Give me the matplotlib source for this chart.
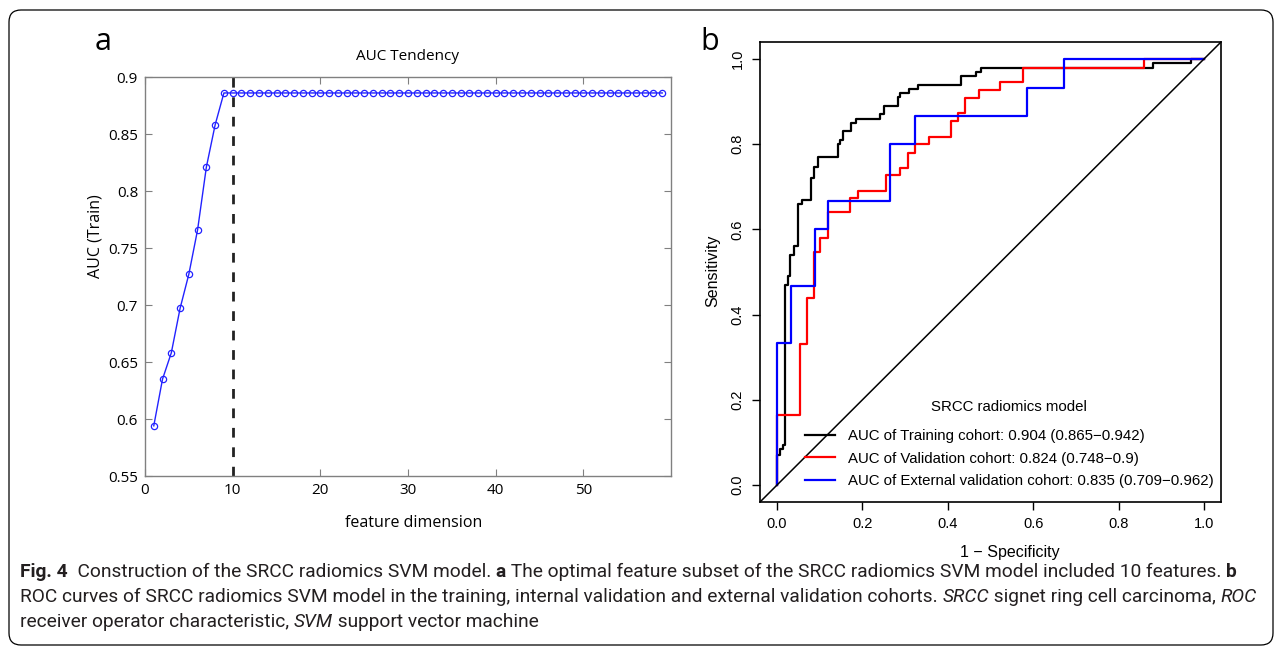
import matplotlib
matplotlib.use("Agg")
import matplotlib.pyplot as plt
from matplotlib import font_manager
from matplotlib.patches import FancyBboxPatch
from matplotlib.lines import Line2D

# ---- panel a: AUC vs number of features ----
feature_dim = list(range(1, 60))
auc_train = [
    0.594, 0.635, 0.658, 0.697, 0.727, 0.766, 0.821, 0.858, 0.886, 0.886,
    0.886, 0.886, 0.886, 0.886, 0.886, 0.886, 0.886, 0.886, 0.886, 0.886,
    0.886, 0.886, 0.886, 0.886, 0.886, 0.886, 0.886, 0.886, 0.886, 0.886,
    0.886, 0.886, 0.886, 0.886, 0.886, 0.886, 0.886, 0.886, 0.886, 0.886,
    0.886, 0.886, 0.886, 0.886, 0.886, 0.886, 0.886, 0.886, 0.886, 0.886,
    0.886, 0.886, 0.886, 0.886, 0.886, 0.886, 0.886, 0.886, 0.886,
]
best_dim = 10

# ---- panel b: ROC points (1 - specificity, sensitivity) ----
train_fpr = [0, 0, 0.007, 0.014, 0.019, 0.026, 0.03, 0.04, 0.05, 0.058, 0.08,
             0.087, 0.096, 0.142, 0.147, 0.154, 0.173, 0.185, 0.24, 0.25,
             0.283, 0.287, 0.31, 0.33, 0.43, 0.432, 0.465, 0.477, 0.88, 0.97, 1.0]
train_tpr = [0, 0.07, 0.085, 0.095, 0.47, 0.49, 0.54, 0.56, 0.66, 0.67, 0.72,
             0.746, 0.77, 0.80, 0.81, 0.83, 0.85, 0.86, 0.87, 0.89,
             0.91, 0.92, 0.93, 0.94, 0.95, 0.96, 0.97, 0.98, 0.99, 1.0, 1.0]
val_fpr = [0, 0, 0.054, 0.07, 0.086, 0.1, 0.12, 0.17, 0.19, 0.255, 0.287,
           0.306, 0.323, 0.355, 0.407, 0.423, 0.44, 0.474, 0.523, 0.575, 0.86, 1.0]
val_tpr = [0, 0.164, 0.33, 0.44, 0.547, 0.58, 0.64, 0.674, 0.69, 0.728, 0.744,
           0.78, 0.80, 0.817, 0.855, 0.873, 0.908, 0.927, 0.945, 0.98, 1.0, 1.0]
ext_fpr = [0, 0, 0.033, 0.089, 0.12, 0.264, 0.323, 0.586, 0.673, 1.0]
ext_tpr = [0, 0.333, 0.467, 0.6, 0.667, 0.8, 0.867, 0.933, 1.0, 1.0]

roc_labels = [
    "AUC of Training cohort: 0.904 (0.865\u22120.942)",
    "AUC of Validation cohort: 0.824 (0.748\u22120.9)",
    "AUC of External validation cohort: 0.835 (0.709\u22120.962)",
]
roc_colors = ["black", "red", "blue"]

caption_lines = [
    [("Fig. 4", "bold", "normal"),
     ("  Construction of the SRCC radiomics SVM model. ", "normal", "normal"),
     ("a", "bold", "normal"),
     (" The optimal feature subset of the SRCC radiomics SVM model included 10 features. ", "normal", "normal"),
     ("b", "bold", "normal")],
    [("ROC curves of SRCC radiomics SVM model in the training, internal validation and external validation cohorts. ", "normal", "normal"),
     ("SRCC", "normal", "italic"),
     (" signet ring cell carcinoma, ", "normal", "normal"),
     ("ROC", "normal", "italic")],
    [("receiver operator characteristic, ", "normal", "normal"),
     ("SVM", "normal", "italic"),
     (" support vector machine", "normal", "normal")],
]
caption_widths = [1242, 1236, None]  # pixel width of each line in the original

W, H = 1281, 655
installed = {f.name for f in font_manager.fontManager.ttflist}
cap_font = "Liberation Sans Narrow" if "Liberation Sans Narrow" in installed else "Roboto"
matlab_font = "Open Sans"
r_font = "Liberation Sans"


def px_axes(fig, left, top, right, bottom):
    return fig.add_axes([left / W, 1 - bottom / H, (right - left) / W, (bottom - top) / H])


def line_width(fig, renderer, runs, size):
    total = 0.0
    for text, weight, style in runs:
        t = fig.text(0, 0, text, fontweight=weight, fontstyle=style, family=cap_font, fontsize=size)
        total += t.get_window_extent(renderer).width
        t.remove()
    return total


fig = plt.figure(figsize=(W / 100, H / 100), dpi=100)
renderer = fig.canvas.get_renderer()

# rounded outer frame
frame = FancyBboxPatch((0.09, 0.10), 12.64, 6.35, boxstyle="round,pad=0,rounding_size=0.12",
                       transform=fig.dpi_scale_trans, fc="none", ec="black", lw=0.9)
fig.patches.append(frame)

# ---------------- panel a ----------------
ax1 = px_axes(fig, 145, 77, 671, 476)
ax1.plot(feature_dim, auc_train, "-o", color="#2222ff", lw=1.0, ms=4.5, mfc="none", mew=0.9)
ax1.axvline(best_dim, color="#222222", lw=2.0, ls=(0, (3.5, 3.5)))
ax1.set_xlim(0, 60)
ax1.set_ylim(0.55, 0.9)
ax1.set_xticks([0, 10, 20, 30, 40, 50])
ax1.set_yticks([0.55, 0.6, 0.65, 0.7, 0.75, 0.8, 0.85, 0.9])
ax1.set_yticklabels(["0.55", "0.6", "0.65", "0.7", "0.75", "0.8", "0.85", "0.9"])
ax1.tick_params(direction="in", length=5, color="#808080", top=True, right=True,
                labelsize=11, pad=5)
for lab in ax1.get_xticklabels() + ax1.get_yticklabels():
    lab.set_fontfamily(matlab_font)
for sp in ax1.spines.values():
    sp.set_color("#808080")
    sp.set_linewidth(1.0)
ax1.set_title("AUC Tendency", fontsize=11, family=matlab_font, pad=12)
fig.text(95 / W, 1 - 236 / H, "AUC (Train)", rotation=90, ha="center", va="center",
         fontsize=11.5, family=matlab_font)
fig.text(414 / W, 1 - 523 / H, "feature dimension", ha="center", va="center",
         fontsize=11.5, family=matlab_font)
fig.text(103 / W, 1 - 42 / H, "a", ha="center", va="center", fontsize=22, family=matlab_font)

# ---------------- panel b ----------------
ax2 = px_axes(fig, 760, 42, 1221, 502)
for fpr, tpr, col in zip([train_fpr, val_fpr, ext_fpr], [train_tpr, val_tpr, ext_tpr], roc_colors):
    ax2.plot(fpr, tpr, drawstyle="steps-post", color=col, lw=1.6)
ax2.axline((0, 0), (1, 1), color="black", lw=1.1)
ax2.set_xlim(-0.04, 1.04)
ax2.set_ylim(-0.04, 1.04)
ticks = [0.0, 0.2, 0.4, 0.6, 0.8, 1.0]
ax2.set_xticks(ticks)
ax2.set_yticks(ticks)
ax2.set_xticklabels([f"{t:.1f}" for t in ticks], family=r_font)
ax2.set_yticklabels([f"{t:.1f}" for t in ticks], family=r_font, rotation=90, va="center")
ax2.tick_params(length=6, width=1, labelsize=10.5, pad=5)
for sp in ax2.spines.values():
    sp.set_linewidth(1.2)
fig.text(1010 / W, 1 - 553 / H, "1 \u2212 Specificity", ha="center", va="center",
         fontsize=11.5, family=r_font)
fig.text(713 / W, 1 - 271 / H, "Sensitivity", rotation=90, ha="center", va="center",
         fontsize=11.5, family=r_font)
handles = [Line2D([], [], color=c, lw=1.6) for c in roc_colors]
leg = ax2.legend(handles, roc_labels, title="SRCC radiomics model", frameon=False,
                 loc="upper left", bbox_to_anchor=(805 / W, 1 - 400 / H),
                 bbox_transform=fig.transFigure, borderpad=0, borderaxespad=0,
                 handlelength=2.0, handletextpad=0.85, labelspacing=0.55,
                 prop={"family": r_font, "size": 10.8})
leg.get_title().set_fontfamily(r_font)
leg.get_title().set_fontsize(10.8)
leg._legend_box.sep = 11
fig.text(710 / W, 1 - 42 / H, "b", ha="center", va="center", fontsize=22, family=matlab_font)

# ---------------- caption ----------------
# pick one size so that no line is wider than in the original
cap_size = min(12 * target / line_width(fig, renderer, runs, 12)
               for runs, target in zip(caption_lines, caption_widths) if target)

for row, runs in enumerate(caption_lines):
    x = 20 / W
    y = 1 - (572 + 25 * row) / H
    for text, weight, style in runs:
        t = fig.text(x, y, text, fontweight=weight, fontstyle=style, family=cap_font,
                     fontsize=cap_size, color="#231f20", ha="left", va="center")
        x += t.get_window_extent(renderer).width / W

fig.savefig("out.png", dpi=100)
